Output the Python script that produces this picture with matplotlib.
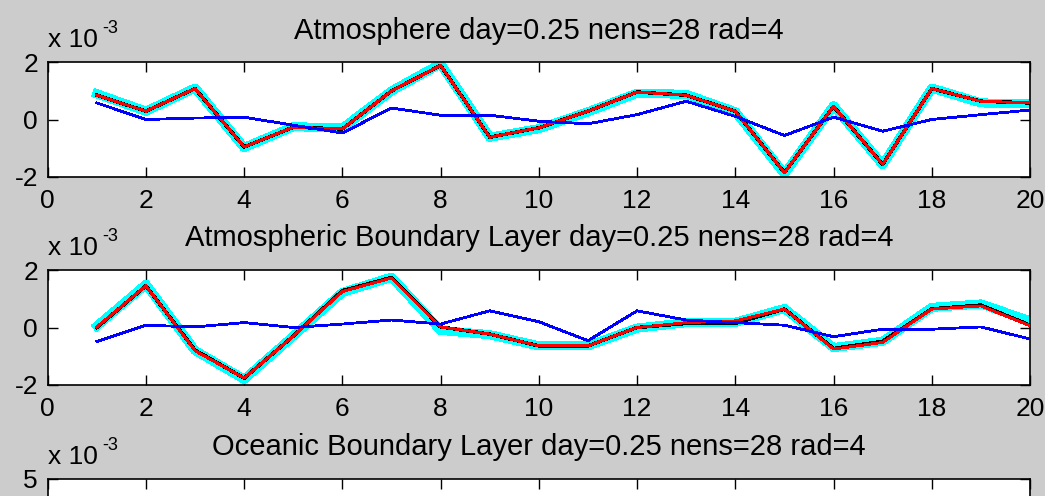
import numpy as np
import matplotlib
matplotlib.use("Agg")
import matplotlib.pyplot as plt
from matplotlib.ticker import FuncFormatter
from matplotlib.transforms import offset_copy

plt.rcParams['font.family'] = ['Liberation Sans', 'DejaVu Sans']

# data (values in units of 1e-3)
x = list(range(1, 21))
scale = 1e-3

atm_cyan = [0.9, 0.29, 1.1, -0.98, -0.25, -0.3, 1.0, 1.95, -0.62, -0.32, 0.27, 0.92, 0.88, 0.27, -1.9, 0.48, -1.58, 1.1, 0.58, 0.55]
atm_black = [0.85, 0.29, 1.08, -0.96, -0.27, -0.33, 1.0, 1.89, -0.62, -0.29, 0.29, 0.96, 0.85, 0.29, -1.86, 0.46, -1.57, 1.08, 0.64, 0.58]
atm_red = [0.85, 0.29, 1.08, -0.96, -0.27, -0.33, 1.0, 1.89, -0.62, -0.29, 0.29, 0.96, 0.85, 0.29, -1.86, 0.46, -1.57, 1.08, 0.64, 0.58]
atm_blue = [0.58, 0.0, 0.05, 0.08, -0.2, -0.47, 0.4, 0.15, 0.15, -0.06, -0.15, 0.17, 0.64, 0.11, -0.56, 0.08, -0.41, 0.0, 0.17, 0.33]

abl_cyan = [0.05, 1.5, -0.8, -1.8, -0.3, 1.22, 1.75, -0.1, -0.25, -0.64, -0.64, -0.02, 0.17, 0.18, 0.66, -0.7, -0.48, 0.7, 0.82, 0.23]
abl_black = [0.0, 1.45, -0.79, -1.76, -0.3, 1.28, 1.74, 0.02, -0.23, -0.64, -0.64, 0.0, 0.14, 0.15, 0.64, -0.73, -0.48, 0.65, 0.78, 0.08]
abl_red = [0.02, 1.45, -0.81, -1.76, -0.3, 1.25, 1.72, 0.02, -0.23, -0.64, -0.64, 0.0, 0.17, 0.23, 0.64, -0.75, -0.52, 0.64, 0.75, 0.06]
abl_blue = [-0.49, 0.08, 0.02, 0.17, 0.0, 0.12, 0.26, 0.12, 0.58, 0.2, -0.46, 0.58, 0.26, 0.17, 0.08, -0.32, -0.06, -0.06, 0.02, -0.4]

titles = ["Atmosphere day=0.25 nens=28 rad=4",
          "Atmospheric Boundary Layer day=0.25 nens=28 rad=4",
          "Oceanic Boundary Layer day=0.25 nens=28 rad=4"]
ylims = [2, 2, 5]

fig = plt.figure(figsize=(10.45, 4.96), dpi=100)
fig.patch.set_facecolor('#cccccc')

# axes boxes in figure fraction (third one runs off the bottom)
W, H = 1045.0, 496.0
boxes = [(62.3, 176.7), (270.0, 385.0), (479.0, 594.0)]
axes = []
for top, bot in boxes:
    ax = fig.add_axes([47.7 / W, (H - bot) / H, (1030 - 47.7) / W, (bot - top) / H])
    axes.append(ax)


def draw(ax, cyan, black, red, blue):
    ax.plot(x, np.array(cyan) * scale, color='#00ffff', lw=5.8, antialiased=False, zorder=2)
    ax.plot(x, np.array(black) * scale, color='black', lw=1.8, antialiased=False, zorder=3)
    ax.plot(x, np.array(red) * scale, color='red', lw=1.3, antialiased=False, zorder=4)
    ax.plot(x, np.array(blue) * scale, color='blue', lw=1.3, antialiased=False, zorder=5)


draw(axes[0], atm_cyan, atm_black, atm_red, atm_blue)
draw(axes[1], abl_cyan, abl_black, abl_red, abl_blue)

fmt = FuncFormatter(lambda v, p: "%g" % round(v / scale, 6))
for ax, t, lim in zip(axes, titles, ylims):
    ax.set_xlim(0, 20)
    ax.set_ylim(-lim * scale, lim * scale)
    ax.set_xticks(range(0, 21, 2))
    ax.set_yticks([-lim * scale, 0, lim * scale])
    ax.yaxis.set_major_formatter(fmt)
    ax.tick_params(direction='in', top=True, right=True, length=7, width=1,
                   labelsize=19, colors='black')
    ax.tick_params(axis='x', pad=9)
    ax.tick_params(axis='y', pad=7)
    for s in ax.spines.values():
        s.set_linewidth(1.2)
    ax.set_title(t, fontsize=21, pad=17)
    # MATLAB style exponent label "x 10^-3"
    tr = offset_copy(ax.transAxes, fig=fig, x=0, y=15, units='dots')
    ax.text(0, 1, 'x 10', transform=tr, fontsize=19, ha='left', va='baseline')
    tr2 = offset_copy(ax.transAxes, fig=fig, x=55, y=29, units='dots')
    ax.text(0, 1, '-3', transform=tr2, fontsize=13, ha='left', va='baseline')

# bottom panel is cut off by the figure edge: only its top is visible
axes[2].set_yticks([5 * scale])
axes[2].tick_params(labelbottom=False)

fig.savefig('out.png', dpi=100, facecolor=fig.get_facecolor())
